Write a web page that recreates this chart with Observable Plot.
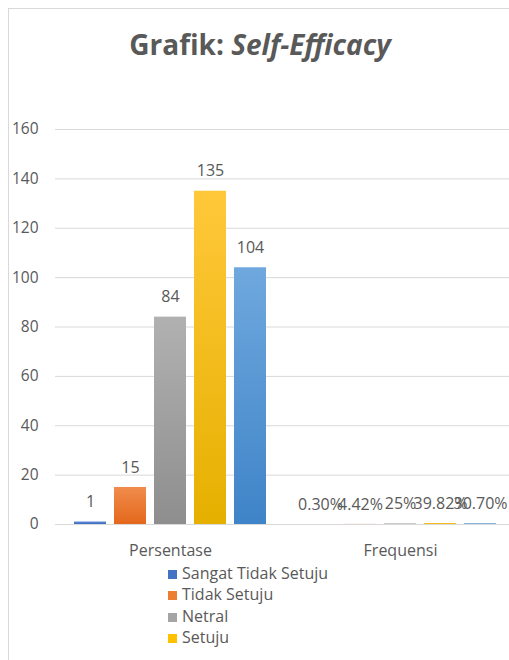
<!DOCTYPE html>
<html>
<head>
<meta charset="utf-8">
<script src="https://cdn.jsdelivr.net/npm/d3@7"></script>
<script src="https://cdn.jsdelivr.net/npm/@observablehq/plot@0.6"></script>
<style>
  html, body { margin: 0; padding: 0; background: #fff; overflow: hidden; width: 509px; height: 660px; }
  body { font-family: "Open Sans", sans-serif; position: relative; }
  #frame { position: absolute; left: 8px; top: 8px; width: 530px; height: 700px; border: 1px solid #d9d9d9; background: #fff; }
  #title { position: absolute; left: 0; top: 16px; width: 502px; text-align: center; font-size: 28px; font-weight: bold; color: #595959; }
  #chart { position: absolute; left: 0; top: 83px; }
  #legend { position: absolute; left: 159px; top: 554px; font-size: 16px; color: #595959; }
  .item { height: 21.3px; line-height: 21.3px; white-space: nowrap; }
  .sw { display: inline-block; width: 9px; height: 9px; margin-right: 5px; vertical-align: 0px; }
</style>
</head>
<body>
<svg width="0" height="0" style="position:absolute">
  <defs id="grads"></defs>
</svg>
<div id="frame">
  <div id="title">Grafik: <i>Self-Efficacy</i></div>
  <div id="chart"></div>
  <div id="legend"></div>
</div>
<script>
const groups = ["Persentase", "Frequensi"];
const seriesNames = ["Sangat Tidak Setuju", "Tidak Setuju", "Netral", "Setuju", "Sangat Setuju"];
const persentaseValues = [1, 15, 84, 135, 104];
const frequensiValues = [0.003, 0.0442, 0.25, 0.3982, 0.307];
const frequensiLabels = ["0.30%", "4.42%", "25%", "39.82%", "30.70%"];
const yTicks = [0, 20, 40, 60, 80, 100, 120, 140, 160];
const legendShown = 4;

const colorsTop = ["#5a8ad6", "#f08c4c", "#b1b1b1", "#ffc83a", "#6fa8de"];
const colorsBottom = ["#3d6cbf", "#e4681c", "#8e8e8e", "#e6b000", "#3f84c8"];
const colorsLegend = ["#4472c4", "#ed7d31", "#a5a5a5", "#ffc000", "#5b9bd5"];

const defs = d3.select("#grads");
seriesNames.forEach((s, i) => {
  const g = defs.append("linearGradient").attr("id", "g" + i)
    .attr("x1", 0).attr("y1", 0).attr("x2", 0).attr("y2", 1);
  g.append("stop").attr("offset", "0%").attr("stop-color", colorsTop[i]);
  g.append("stop").attr("offset", "100%").attr("stop-color", colorsBottom[i]);
});

const data = [];
seriesNames.forEach((s, i) => {
  data.push({group: groups[0], series: s, idx: i, value: persentaseValues[i], label: String(persentaseValues[i])});
});
seriesNames.forEach((s, i) => {
  data.push({group: groups[1], series: s, idx: i, value: frequensiValues[i], label: frequensiLabels[i]});
});

const plot = Plot.plot({
  width: 516,
  height: 481,
  marginLeft: 46,
  marginRight: 10,
  marginTop: 37,
  marginBottom: 49,
  style: {fontFamily: "Open Sans, sans-serif", fontSize: "16px", color: "#595959", overflow: "visible"},
  fx: {domain: groups, padding: 0, label: null},
  x: {domain: seriesNames, paddingInner: 0.19, paddingOuter: 0.43, axis: null},
  y: {domain: [0, 160], label: null},
  color: {type: "identity"},
  marks: [
    Plot.gridY(yTicks, {stroke: "#d9d9d9", strokeOpacity: 1, x1: null}),
    Plot.axisY({ticks: yTicks, tickSize: 0, tickPadding: 17, label: null, fill: "#595959", fontSize: 15.5}),
    Plot.axisFx({anchor: "bottom", tickSize: 0, tickPadding: 20, label: null, fill: "#595959", fontSize: 16}),
    Plot.barY(data, {fx: "group", x: "series", y: "value", fill: d => `url(#g${d.idx})`}),
    Plot.ruleY([0], {stroke: "#d9d9d9"}),
    Plot.text(data, {fx: "group", x: "series", y: "value", text: "label", dy: -20, fill: "#595959", fontSize: 16})
  ]
});
document.getElementById("chart").appendChild(plot);

const legend = d3.select("#legend");
seriesNames.slice(0, legendShown).forEach((s, i) => {
  const it = legend.append("div").attr("class", "item");
  it.append("span").attr("class", "sw").style("background", colorsLegend[i]);
  it.append("span").text(s);
});
</script>
</body>
</html>
